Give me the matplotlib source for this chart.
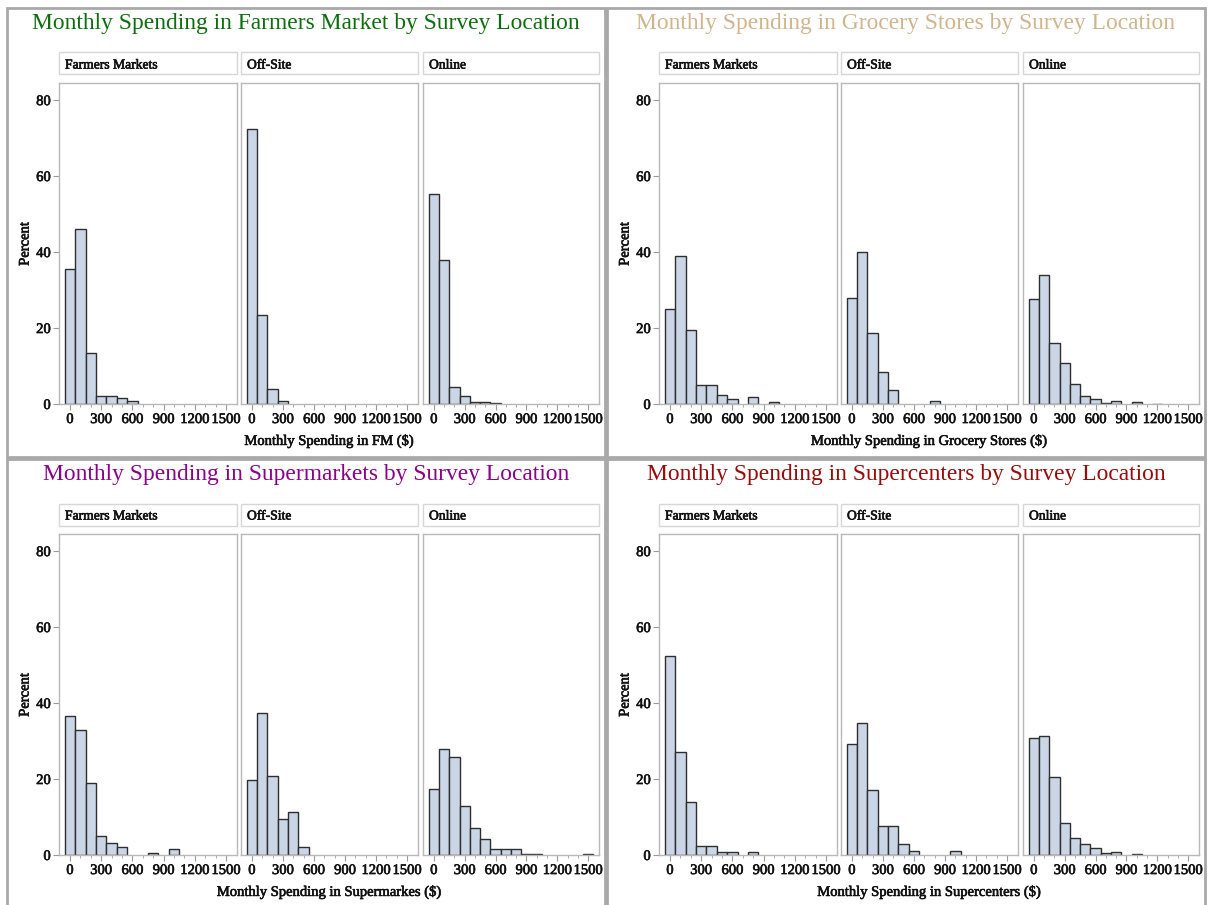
import matplotlib
matplotlib.use("Agg")
import matplotlib.pyplot as plt
import matplotlib.patheffects as pe
from matplotlib.patches import Rectangle

plt.rcParams["font.family"] = ["Liberation Serif", "DejaVu Serif"]

W, H = 1213, 905

bin_centers = [0, 100, 200, 300, 400, 500, 600, 700, 800, 900, 1000, 1100, 1200, 1300, 1400, 1500]
locations = ["Farmers Markets", "Off-Site", "Online"]
x_ticks = [0, 300, 600, 900, 1200, 1500]
y_ticks = [0, 20, 40, 60, 80]

# percent per $100 bin, one list per survey location
fm_farmers = [35.5, 46.1, 13.4, 2.1, 2.1, 1.5, 0.7, 0, 0, 0, 0, 0, 0, 0, 0, 0]
fm_offsite = [72.5, 23.4, 3.9, 0.9, 0, 0, 0, 0, 0, 0, 0, 0, 0, 0, 0, 0]
fm_online = [55.4, 38.0, 4.6, 2.2, 0.6, 0.6, 0.3, 0, 0, 0, 0, 0, 0, 0, 0, 0]

gs_farmers = [25.1, 38.9, 19.5, 5.0, 5.0, 2.4, 1.3, 0, 1.8, 0, 0.6, 0, 0, 0, 0, 0]
gs_offsite = [28.0, 40.1, 18.6, 8.4, 3.6, 0, 0, 0, 0.8, 0, 0, 0, 0, 0, 0, 0]
gs_online = [27.7, 34.0, 16.0, 10.7, 5.2, 2.1, 1.4, 0.3, 0.8, 0, 0.6, 0, 0.1, 0, 0, 0]

sm_farmers = [36.5, 32.8, 19.0, 5.1, 3.2, 2.0, 0, 0, 0.6, 0, 1.5, 0, 0, 0, 0, 0]
sm_offsite = [19.7, 37.5, 20.7, 9.6, 11.3, 2.0, 0, 0, 0, 0, 0, 0, 0, 0, 0, 0]
sm_online = [17.5, 28.0, 25.7, 13.0, 7.1, 4.3, 1.7, 1.7, 1.5, 0.3, 0.3, 0, 0, 0, 0, 0.3]

sc_farmers = [52.3, 27.1, 13.9, 2.5, 2.5, 0.7, 0.7, 0, 0.7, 0, 0, 0, 0, 0, 0, 0]
sc_offsite = [29.1, 34.7, 17.1, 7.6, 7.6, 2.8, 1.0, 0, 0, 0, 1.0, 0, 0, 0, 0, 0]
sc_online = [30.7, 31.3, 20.6, 8.4, 4.4, 2.8, 1.8, 0.4, 0.7, 0, 0.2, 0, 0, 0, 0, 0]

titles = [
    "Monthly Spending in Farmers Market by Survey Location",
    "Monthly Spending in Grocery Stores by Survey Location",
    "Monthly Spending in Supermarkets by Survey Location",
    "Monthly Spending in Supercenters by Survey Location",
]
title_colors = ["#0e6e0e", "#d2b48c", "#8b008b", "#9b0a0a"]
x_labels = [
    "Monthly Spending in FM ($)",
    "Monthly Spending in Grocery Stores ($)",
    "Monthly Spending in Supermarkes ($)",
    "Monthly Spending in Supercenters ($)",
]
block_data = [
    [fm_farmers, fm_offsite, fm_online],
    [gs_farmers, gs_offsite, gs_online],
    [sm_farmers, sm_offsite, sm_online],
    [sc_farmers, sc_offsite, sc_online],
]
block_origins = [(7, 8), (607, 8), (7, 459), (607, 459)]

BAR_FILL = "#cad5e5"
BAR_EDGE = "#2e2e2e"
FRAME = "#b8b8b8"
STRIP = "#d6d6d6"
TXT = "#111111"
# slightly heavier text, closer to the original rendering
heavy = [pe.withStroke(linewidth=0.45, foreground=TXT)]


def fx(x):
    return x / W


def fy(y):
    return 1 - y / H


def add_box(fig, x0, y0, x1, y1, color, lw):
    fig.patches.append(Rectangle((fx(x0), fy(y1)), fx(x1) - fx(x0), fy(y0) - fy(y1),
                                 transform=fig.transFigure, fill=False,
                                 edgecolor=color, linewidth=lw, zorder=0))


fig = plt.figure(figsize=(W / 100, H / 100), dpi=100)

panel_x = [(52, 230), (234, 411), (416, 592)]
for b, (bx, by) in enumerate(block_origins):
    bh = 449 if by < 100 else 452
    add_box(fig, bx, by, bx + 598, by + bh, "#a9a9a9", 2.0)
    fig.text(fx(bx + 299), fy(by + 15.5), titles[b], color=title_colors[b],
             fontsize=16.9, ha="center", va="center")
    for i, (x0, x1) in enumerate(panel_x):
        # strip header
        add_box(fig, bx + x0, by + 44.5, bx + x1, by + 66.5, STRIP, 1.0)
        fig.text(fx(bx + x0 + 6), fy(by + 57), locations[i], fontsize=9.8,
                 color=TXT, ha="left", va="center", path_effects=heavy)
        ax = fig.add_axes([fx(bx + x0), fy(by + 396), (x1 - x0) / W, 321 / H])
        vals = block_data[b][i]
        xs = [c for c, v in zip(bin_centers, vals) if v > 0]
        hs = [v for v in vals if v > 0]
        ax.bar(xs, hs, width=100, color=BAR_FILL, edgecolor=BAR_EDGE, linewidth=1.0)
        ax.set_xlim(-105, 1605)
        ax.set_ylim(0, 84.5)
        for s in ax.spines.values():
            s.set_color(FRAME)
            s.set_linewidth(1.0)
        ax.set_xticks(x_ticks)
        ax.set_xticks(bin_centers, minor=True)
        ax.tick_params(axis="x", which="major", length=4, color="#9a9a9a",
                       labelsize=10.5, labelcolor=TXT, pad=2.5)
        ax.tick_params(axis="x", which="minor", length=2.5, color="#9a9a9a")
        if i == 0:
            ax.set_yticks(y_ticks)
            ax.tick_params(axis="y", length=4, color="#9a9a9a", labelsize=10.5,
                           labelcolor=TXT, pad=2)
        else:
            ax.set_yticks([])
        for lab in ax.get_xticklabels() + ax.get_yticklabels():
            lab.set_path_effects(heavy)
    fig.text(fx(bx + 18), fy(by + 236), "Percent", rotation=90, fontsize=10.5,
             color=TXT, ha="center", va="center", path_effects=heavy)
    fig.text(fx(bx + 322), fy(by + 433), x_labels[b], fontsize=10.5,
             color=TXT, ha="center", va="center", path_effects=heavy)

fig.savefig("out.png", dpi=100)
